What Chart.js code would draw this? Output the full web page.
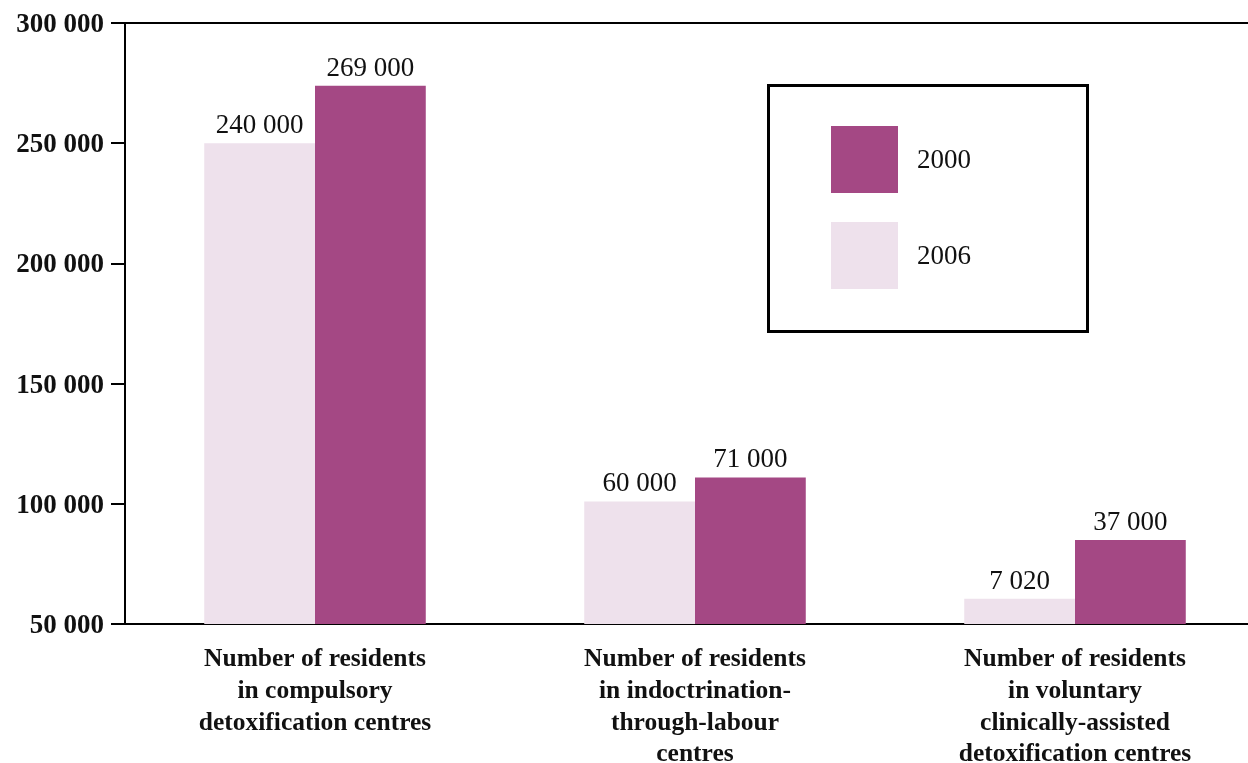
<!DOCTYPE html>
<html>
<head>
<meta charset="utf-8">
<script src="https://cdn.jsdelivr.net/npm/chart.js@4"></script>
<style>
  html, body { margin: 0; padding: 0; background: #fff; overflow: hidden; }
  #wrap { width: 1248px; height: 763px; overflow: hidden; }
  canvas { display: block; }
</style>
</head>
<body>
<div id="wrap"><canvas id="residentsChart" width="1266" height="763"></canvas></div>
<script>
// categories and series
const categories = [
    ['Number of residents', 'in compulsory', 'detoxification centres'],
    ['Number of residents', 'in indoctrination-', 'through-labour', 'centres'],
    ['Number of residents', 'in voluntary', 'clinically-assisted', 'detoxification centres']
];
const years = ['2006', '2000'];
// bar heights as drawn against the axis
const bars2006 = [250000, 101000, 60500];
const bars2000 = [274000, 111000, 85000];
// figures printed above the bars
const labels2006 = ['240 000', '60 000', '7 020'];
const labels2000 = ['269 000', '71 000', '37 000'];
const yTicks = [50000, 100000, 150000, 200000, 250000, 300000];

const dark = '#a44884';
const light = '#eee1ec';
const serif = "'Liberation Serif', 'DejaVu Serif', serif";

const fmt = v => String(v).replace(/\B(?=(\d{3})+(?!\d))/g, ' ');

// value text on top of each bar
const barLabels = {
    id: 'barLabels',
    afterDatasetsDraw(chart) {
        const ctx = chart.ctx;
        ctx.save();
        ctx.font = '27px ' + serif;
        ctx.fillStyle = '#111';
        ctx.textAlign = 'center';
        ctx.textBaseline = 'alphabetic';
        chart.data.datasets.forEach((ds, i) => {
            chart.getDatasetMeta(i).data.forEach((bar, j) => {
                ctx.fillText(ds.valueLabels[j], bar.x, bar.y - 10);
            });
        });
        ctx.restore();
    }
};

// boxed legend inside the plot, 2000 listed first
const boxLegend = {
    id: 'boxLegend',
    afterDraw(chart) {
        const ctx = chart.ctx;
        ctx.save();
        ctx.lineWidth = 3;
        ctx.strokeStyle = '#000';
        ctx.strokeRect(768.5, 85.5, 319, 246);
        ctx.font = '27px ' + serif;
        ctx.textBaseline = 'alphabetic';
        const order = chart.data.datasets.slice().reverse();
        order.forEach((ds, k) => {
            const top = 126 + k * 96;
            ctx.fillStyle = ds.backgroundColor;
            ctx.fillRect(831, top, 67, 67);
            ctx.fillStyle = '#111';
            ctx.fillText(ds.label, 917, top + 42);
        });
        ctx.restore();
    }
};

new Chart(document.getElementById('residentsChart'), {
    type: 'bar',
    data: {
        labels: categories,
        datasets: [
            { label: years[0], data: bars2006, backgroundColor: light, valueLabels: labels2006 },
            { label: years[1], data: bars2000, backgroundColor: dark, valueLabels: labels2000 }
        ]
    },
    options: {
        responsive: false,
        animation: false,
        layout: { padding: { top: 22, right: 1, left: 0, bottom: 0 } },
        categoryPercentage: 0.583,
        barPercentage: 1,
        plugins: {
            legend: { display: false },
            tooltip: { enabled: false }
        },
        scales: {
            x: {
                grid: { display: false },
                border: { display: true, color: '#000', width: 2 },
                ticks: {
                    color: '#111',
                    font: { family: serif, size: 25.5, weight: 'bold', lineHeight: 1.24 },
                    padding: 12,
                    maxRotation: 0,
                    autoSkip: false
                },
                afterFit(scale) { scale.height = 139; }
            },
            y: {
                min: yTicks[0],
                max: yTicks[yTicks.length - 1],
                afterBuildTicks(scale) { scale.ticks = yTicks.map(v => ({ value: v })); },
                grid: {
                    drawOnChartArea: true,
                    color: c => (c.tick && c.tick.value === yTicks[yTicks.length - 1]) ? '#000' : 'rgba(0,0,0,0)',
                    tickColor: '#000',
                    lineWidth: 2,
                    tickWidth: 2,
                    tickLength: 14
                },
                border: { display: true, color: '#000', width: 2 },
                ticks: {
                    color: '#111',
                    font: { family: serif, size: 27, weight: 'bold' },
                    padding: 7,
                    labelOffset: 2,
                    callback: v => fmt(v)
                },
                afterFit(scale) { scale.width = 125; }
            }
        }
    },
    plugins: [barLabels, boxLegend]
});
</script>
</body>
</html>
